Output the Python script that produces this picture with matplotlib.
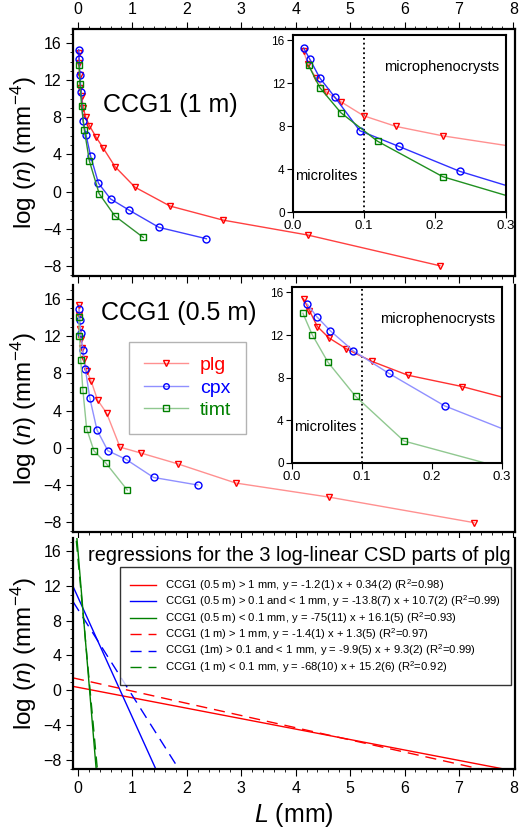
import matplotlib
matplotlib.use('Agg')
import matplotlib.pyplot as plt
import numpy as np
from matplotlib.ticker import MultipleLocator, FormatStrFormatter

plt.rcParams['font.family'] = ['Liberation Sans', 'DejaVu Sans']
plt.rcParams['mathtext.fontset'] = 'custom'
plt.rcParams['mathtext.rm'] = 'Liberation Sans'
plt.rcParams['mathtext.it'] = 'Liberation Sans:italic'

# CCG1 (1 m)
plg_1m_L = [0.015, 0.021, 0.032, 0.047, 0.067, 0.0995, 0.145, 0.211, 0.33, 0.47, 0.68, 1.05, 1.69, 2.66, 4.22, 6.65]
plg_1m_n = [14.97, 13.8, 12.5, 11.2, 10.3, 8.97, 7.98, 7.1, 5.9, 4.64, 2.7, 0.47, -1.55, -3.06, -4.67, -7.98]
cpx_1m_L = [0.015, 0.0236, 0.0377, 0.059, 0.094, 0.149, 0.235, 0.378, 0.60, 0.945, 1.49, 2.36]
cpx_1m_n = [15.28, 14.25, 12.5, 10.7, 7.58, 6.12, 3.79, 0.9, -0.79, -2.01, -3.85, -5.07]
timt_1m_L = [0.022, 0.0377, 0.0675, 0.119, 0.211, 0.39, 0.68, 1.2]
timt_1m_n = [13.66, 11.6, 9.25, 6.6, 3.29, -0.22, -2.63, -4.93]

# CCG1 (0.5 m)
plg_05_L = [0.0165, 0.025, 0.0363, 0.0528, 0.0778, 0.1137, 0.1656, 0.243, 0.36, 0.528, 0.773, 1.16, 1.83, 2.9, 4.61, 7.28]
plg_05_n = [15.38, 14.29, 12.79, 11.73, 10.7, 9.54, 8.23, 7.17, 5.15, 3.72, 0.07, -0.57, -1.72, -3.79, -5.3, -8.05]
cpx_05_L = [0.022, 0.0354, 0.055, 0.0877, 0.138, 0.218, 0.35, 0.55, 0.877, 1.39, 2.2]
cpx_05_n = [14.88, 13.72, 12.38, 10.51, 8.42, 5.36, 1.93, -0.32, -1.22, -3.19, -4.0]
timt_05_L = [0.0156, 0.0288, 0.0514, 0.091, 0.16, 0.294, 0.515, 0.908]
timt_05_n = [14.04, 12.04, 9.45, 6.24, 2.06, -0.32, -1.65, -4.55]

# regressions for plg
reg_slopes = [-1.2, -13.8, -75, -1.4, -9.9, -68]
reg_inter = [0.34, 10.7, 16.1, 1.3, 9.3, 15.2]
reg_labels = [
    'CCG1 (0.5 m) > 1 mm, y = -1.2(1) x + 0.34(2) (R$^2$=0.98)',
    'CCG1 (0.5 m) > 0.1 and < 1 mm, y = -13.8(7) x + 10.7(2) (R$^2$=0.99)',
    'CCG1 (0.5 m) < 0.1 mm, y = -75(11) x + 16.1(5) (R$^2$=0.93)',
    'CCG1 (1 m) > 1 mm, y = -1.4(1) x + 1.3(5) (R$^2$=0.97)',
    'CCG1 (1m) > 0.1 and < 1 mm, y = -9.9(5) x + 9.3(2) (R$^2$=0.99)',
    'CCG1 (1 m) < 0.1 mm, y = -68(10) x + 15.2(6) (R$^2$=0.92)',
]
reg_colors = ['#ff0000', '#0000ff', '#008000', '#ff0000', '#0000ff', '#008000']
reg_dashed = [False, False, False, True, True, True]

RED, BLUE, GREEN = '#ff0000', '#0000ff', '#008000'
LRED, LBLUE, LGREEN = '#ff9090', '#9090ff', '#90c890'

XLIM = (-0.09, 8.03)
YLIM = (-9.05, 17.5)
ylab = r'log ($\mathit{n}$) (mm$^{-4}$)'

fig = plt.figure(figsize=(5.2, 8.38), dpi=100)


def style_main(ax, top=False, bottom_labels=False):
    ax.set_xlim(XLIM)
    ax.set_ylim(YLIM)
    ax.xaxis.set_major_locator(MultipleLocator(1))
    ax.xaxis.set_minor_locator(MultipleLocator(0.2))
    ax.yaxis.set_major_locator(MultipleLocator(4))
    ax.yaxis.set_minor_locator(MultipleLocator(1))
    for s in ax.spines.values():
        s.set_linewidth(1.6)
    ax.tick_params(which='major', direction='out', length=5, width=0.8, labelsize=11.5)
    ax.tick_params(which='minor', direction='out', length=2.5, width=0.6)
    if top:
        ax.tick_params(axis='x', which='both', top=True, labeltop=True, bottom=True, labelbottom=False)
    else:
        ax.spines['top'].set_visible(False)
        ax.tick_params(axis='x', which='both', top=False, labeltop=False, labelbottom=bottom_labels)
    ax.set_ylabel(ylab, fontsize=17.5)
    ax.yaxis.set_label_coords(-0.078, 0.5)


def style_inset(ax):
    ax.set_xlim(0, 0.3)
    ax.set_ylim(0, 16.5)
    ax.xaxis.set_major_locator(MultipleLocator(0.1))
    ax.xaxis.set_major_formatter(FormatStrFormatter('%.1f'))
    ax.yaxis.set_major_locator(MultipleLocator(4))
    for s in ax.spines.values():
        s.set_linewidth(1.5)
    ax.tick_params(axis='x', direction='out', length=4, labelsize=9.5, pad=2)
    ax.tick_params(axis='y', direction='out', length=4, labelsize=8.5, pad=2)
    ax.axvline(0.1, color='black', ls=':', lw=1.3)
    ax.text(0.29, 13.5, 'microphenocrysts', ha='right', va='center', fontsize=10.5)
    ax.text(0.003, 3.4, 'microlites', ha='left', va='center', fontsize=10.5)


def series(ax, L, n, marker, mcol, lcol, label=None):
    ax.plot(L, n, color=lcol, lw=1, marker=marker, ms=5, mfc='none', mec=mcol, mew=1, label=label)


# top panel
ax1 = fig.add_axes([0.1404, 0.671, 0.85, 0.2944])
style_main(ax1, top=True)
series(ax1, plg_1m_L, plg_1m_n, 'v', RED, '#ff4040')
series(ax1, cpx_1m_L, cpx_1m_n, 'o', BLUE, '#4040ff')
series(ax1, timt_1m_L, timt_1m_n, 's', GREEN, '#309030')
ax1.text(0.22, 0.692, 'CCG1 (1 m)', transform=ax1.transAxes, ha='center', va='center', fontsize=18)

in1 = fig.add_axes([0.5635, 0.747, 0.4096, 0.2112])
style_inset(in1)
series(in1, plg_1m_L, plg_1m_n, 'v', RED, LRED)
series(in1, cpx_1m_L, cpx_1m_n, 'o', BLUE, '#3030ff')
series(in1, timt_1m_L, timt_1m_n, 's', GREEN, '#209020')

# middle panel
ax2 = fig.add_axes([0.1404, 0.3652, 0.85, 0.2947])
style_main(ax2)
series(ax2, plg_05_L, plg_05_n, 'v', RED, LRED, 'plg')
series(ax2, cpx_05_L, cpx_05_n, 'o', BLUE, LBLUE, 'cpx')
series(ax2, timt_05_L, timt_05_n, 's', GREEN, LGREEN, 'timt')
ax2.text(0.24, 0.887, 'CCG1 (0.5 m)', transform=ax2.transAxes, ha='center', va='center', fontsize=18)
leg = ax2.legend(loc='upper left', bbox_to_anchor=(0.127, 0.769), fontsize=14, handlelength=2.3,
                 markerscale=0.8, frameon=True, fancybox=False, borderpad=0.75, labelspacing=0.25,
                 handletextpad=0.6, borderaxespad=0)
leg.get_frame().set_edgecolor('#a0a0a0')
leg.get_frame().set_linewidth(1)
for t, c in zip(leg.get_texts(), [RED, BLUE, GREEN]):
    t.set_color(c)

in2 = fig.add_axes([0.5615, 0.4475, 0.4038, 0.21])
style_inset(in2)
series(in2, plg_05_L, plg_05_n, 'v', RED, '#ff3030')
series(in2, cpx_05_L, cpx_05_n, 'o', BLUE, LBLUE)
series(in2, timt_05_L, timt_05_n, 's', GREEN, LGREEN)

# bottom panel: regression lines
ax3 = fig.add_axes([0.1404, 0.0823, 0.85, 0.2757])
style_main(ax3, bottom_labels=True)
xs = np.array(XLIM)
for a, b, lab, c, d in zip(reg_slopes, reg_inter, reg_labels, reg_colors, reg_dashed):
    if d:
        ax3.plot(xs, a * xs + b, color=c, lw=1, ls=(0, (8, 5)), label=lab)
    else:
        ax3.plot(xs, a * xs + b, color=c, lw=1, label=lab)
ax3.set_xlabel(r'$\mathit{L}$ (mm)', fontsize=18, labelpad=4)
ax3.text(0.513, 0.926, 'regressions for the 3 log-linear CSD parts of plg', transform=ax3.transAxes,
         ha='center', va='center', fontsize=14.4)
leg3 = ax3.legend(loc='upper right', bbox_to_anchor=(0.991, 0.874), fontsize=8.1, handlelength=2.3,
                  frameon=True, fancybox=False, borderpad=0.9, labelspacing=0.05, handletextpad=0.8,
                  borderaxespad=0)
leg3.get_frame().set_edgecolor('black')
leg3.get_frame().set_linewidth(1)

fig.savefig('out.png', dpi=100)
